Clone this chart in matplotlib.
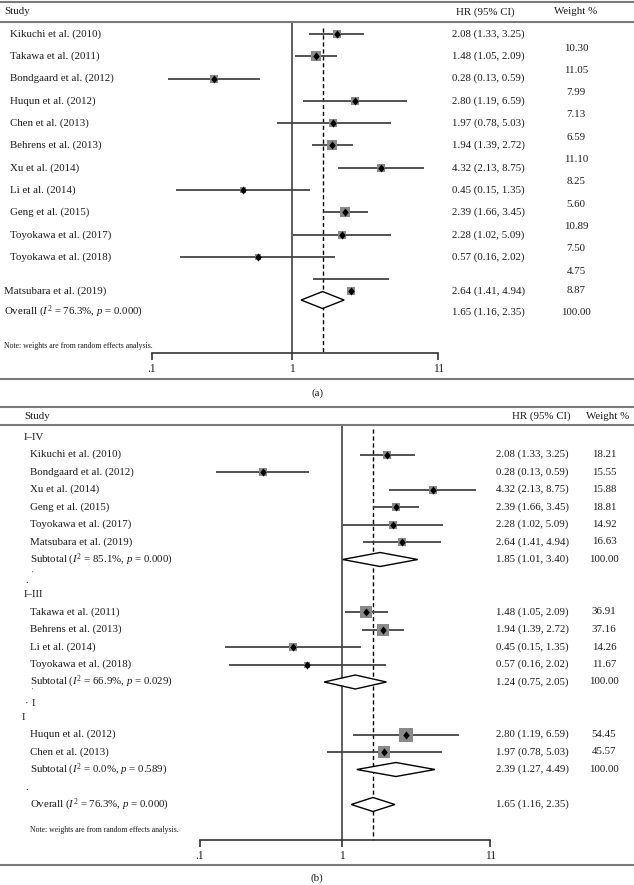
import numpy as np
import matplotlib as mpl
mpl.use('Agg')
import matplotlib.pyplot as plt
from matplotlib.patches import Polygon
from matplotlib.ticker import NullLocator

plt.rcParams['font.family'] = ['Liberation Serif', 'DejaVu Serif']
plt.rcParams['mathtext.fontset'] = 'custom'
plt.rcParams['mathtext.rm'] = 'Liberation Serif'
plt.rcParams['mathtext.it'] = 'Liberation Serif:italic'

W, H, DPI = 634, 885, 100
FS = 7.8
TXT = '#1a1a1a'
FRAME = '#7a7a7a'
CI_COL = '#444444'
BOX_COL = '#8a8a8a'
DIAMOND = [(0, 1), (0.8, 0), (0, -1), (-0.8, 0)]

# ---- data: all studies (panel a)
studies = ["Kikuchi et al. (2010)", "Takawa et al. (2011)", "Bondgaard et al. (2012)",
           "Huqun et al. (2012)", "Chen et al. (2013)", "Behrens et al. (2013)",
           "Xu et al. (2014)", "Li et al. (2014)", "Geng et al. (2015)",
           "Toyokawa et al. (2017)", "Toyokawa et al. (2018)", "Matsubara et al. (2019)"]
hr = [2.08, 1.48, 0.28, 2.80, 1.97, 1.94, 4.32, 0.45, 2.39, 2.28, 0.57, 2.64]
ci_lo = [1.33, 1.05, 0.13, 1.19, 0.78, 1.39, 2.13, 0.15, 1.66, 1.02, 0.16, 1.41]
ci_hi = [3.25, 2.09, 0.59, 6.59, 5.03, 2.72, 8.75, 1.35, 3.45, 5.09, 2.02, 4.94]
weight_all = [10.30, 11.05, 7.99, 7.13, 6.59, 11.10, 8.25, 5.60, 10.89, 7.50, 4.75, 8.87]

overall = (1.65, 1.16, 2.35)
overall_i2, overall_p = "76.3%", "0.000"

# ---- data: subgroups (panel b)
group_names = ["I\u2013IV", "I\u2013III", "I"]
group_members = [
    ["Kikuchi et al. (2010)", "Bondgaard et al. (2012)", "Xu et al. (2014)",
     "Geng et al. (2015)", "Toyokawa et al. (2017)", "Matsubara et al. (2019)"],
    ["Takawa et al. (2011)", "Behrens et al. (2013)", "Li et al. (2014)",
     "Toyokawa et al. (2018)"],
    ["Huqun et al. (2012)", "Chen et al. (2013)"],
]
group_weights = [
    [18.21, 15.55, 15.88, 18.81, 14.92, 16.63],
    [36.91, 37.16, 14.26, 11.67],
    [54.45, 45.57],
]
group_pooled = [(1.85, 1.01, 3.40), (1.24, 0.75, 2.05), (2.39, 1.27, 4.49)]
group_i2 = ["85.1%", "66.9%", "0.0%"]
group_p = ["0.000", "0.029", "0.589"]

ticks = [0.1, 1, 11]
tick_labels = [".1", "1", "11"]
NULL_HR = 1

fig = plt.figure(figsize=(W / DPI, H / DPI), dpi=DPI)


def make_panel(top_px, bot_px, row0_px, step_px, one_px, decade_px):
    ax = fig.add_axes([0, 1 - bot_px / H, 1, (bot_px - top_px) / H])
    ax.set_xscale('log')
    ax.set_xlim(10 ** (-one_px / decade_px), 10 ** ((W - one_px) / decade_px))
    ax.set_ylim((bot_px - row0_px) / step_px, (top_px - row0_px) / step_px)
    for s in ['left', 'right', 'top']:
        ax.spines[s].set_visible(False)
    ax.patch.set_alpha(0)
    ax.tick_params(axis='y', left=False, labelleft=False)
    return ax


def txt(ax, xpx, y, s, **kw):
    kw.setdefault('fontsize', FS)
    ax.text(xpx / W, y, s, transform=ax.get_yaxis_transform(), va='center',
            color=TXT, **kw)


def study_marks(ax, y_ci, y_pt, est, lo, hi, w, k, dsize):
    ax.hlines(y_ci, lo, hi, color=CI_COL, lw=1.3, zorder=2)
    ax.scatter([est], [y_pt], s=(k * np.sqrt(w) * 0.72) ** 2, marker='s',
               color=BOX_COL, linewidths=0, zorder=3)
    ax.scatter([est], [y_pt], s=dsize, marker=DIAMOND, color='black',
               linewidths=0, zorder=4)


def pooled(ax, y, est, lo, hi, half):
    ax.add_patch(Polygon([(lo, y), (est, y - half), (hi, y), (est, y + half)],
                         closed=True, fc='white', ec='black', lw=1, zorder=3))


def axis_and_frame(ax, axis_row, frame_rows, line_top):
    ax.spines['bottom'].set_position(('data', axis_row))
    ax.spines['bottom'].set_bounds(ticks[0], ticks[-1])
    ax.spines['bottom'].set_color('#333333')
    ax.spines['bottom'].set_linewidth(1.2)
    ax.set_xticks(ticks, tick_labels)
    ax.xaxis.set_minor_locator(NullLocator())
    ax.tick_params(axis='x', direction='out', length=5, width=1.2, pad=2,
                   labelsize=8.3, colors='#333333', labelcolor=TXT)
    for r in frame_rows:
        ax.axhline(r, color=FRAME, lw=1.5)
    ax.vlines(NULL_HR, line_top, axis_row, color='#333333', lw=1.1, zorder=1)
    ax.vlines(overall[0], line_top + 0.25, axis_row - 0.05, color='black',
              lw=1, linestyles=(0, (3, 2)), zorder=1)


# ================= panel (a) =================
ax = make_panel(0, 386, 34, 22.3, 292, 140.5)
axis_and_frame(ax, 14.3, [-1.43, -0.54, 15.47], -0.54)
txt(ax, 4, -0.99, "Study")
txt(ax, 456, -0.99, "HR (95% CI)")
txt(ax, 576, -0.99, "Weight %", ha='center')

n = len(studies)
for i in range(n - 1):
    study_marks(ax, i, i, hr[i], ci_lo[i], ci_hi[i], weight_all[i], 2.8, 34)
    txt(ax, 10, i, studies[i])
    txt(ax, 452, i, f"{hr[i]:.2f} ({ci_lo[i]:.2f}, {ci_hi[i]:.2f})")
    txt(ax, 576, i + 0.63, f"{weight_all[i]:.2f}", ha='center')
# last study: its CI line sits above its marker in the source figure
j = n - 1
study_marks(ax, j, j + 0.52, hr[j], ci_lo[j], ci_hi[j], weight_all[j], 2.8, 34)
txt(ax, 4, j + 0.52, studies[j])
txt(ax, 452, j + 0.52, f"{hr[j]:.2f} ({ci_lo[j]:.2f}, {ci_hi[j]:.2f})")
txt(ax, 576, j + 0.52, f"{weight_all[j]:.2f}", ha='center')

pooled(ax, j + 0.93, *overall, 0.38)
txt(ax, 4, j + 1.47, f"Overall ($I^2$ = {overall_i2}, $p$ = {overall_p})")
txt(ax, 452, j + 1.47, f"{overall[0]:.2f} ({overall[1]:.2f}, {overall[2]:.2f})")
txt(ax, 576, j + 1.47, "100.00", ha='center')
txt(ax, 4, 14.0, "Note: weights are from random effects analysis.", fontsize=5.6)

fig.text(0.5, 1 - 393 / H, "(a)", ha='center', va='center', fontsize=FS, color=TXT)

# ================= panel (b) =================
ax = make_panel(400, 885, 437, 17.5, 342, 142.5)
axis_and_frame(ax, 23.05, [-1.71, -0.69, 24.46], -0.69)
txt(ax, 24, -1.2, "Study")
txt(ax, 512, -1.2, "HR (95% CI)")
txt(ax, 608, -1.2, "Weight %", ha='center')

lookup = {s: i for i, s in enumerate(studies)}
group_start = [0, 9, 16]
for g, name in enumerate(group_names):
    r = group_start[g]
    txt(ax, 24 if g < 2 else 22, r, name)
    r += 1
    for s, w in zip(group_members[g], group_weights[g]):
        i = lookup[s]
        study_marks(ax, r, r, hr[i], ci_lo[i], ci_hi[i], w, 1.9, 34)
        txt(ax, 30, r, s)
        txt(ax, 496, r, f"{hr[i]:.2f} ({ci_lo[i]:.2f}, {ci_hi[i]:.2f})")
        txt(ax, 604, r, f"{w:.2f}", ha='center')
        r += 1
    est, lo, hi = group_pooled[g]
    pooled(ax, r, est, lo, hi, 0.4)
    txt(ax, 30, r, f"Subtotal ($I^2$ = {group_i2[g]}, $p$ = {group_p[g]})")
    txt(ax, 496, r, f"{est:.2f} ({lo:.2f}, {hi:.2f})")
    txt(ax, 604, r, "100.00", ha='center')

# stray marks left in the source figure
txt(ax, 25, 8.2, ".")
txt(ax, 32, 7.8, "'", fontsize=5)
txt(ax, 32, 14.46, "'", fontsize=5)
txt(ax, 25, 15.2, "\u00b7")
txt(ax, 32, 15.2, "I")
txt(ax, 25, 20.0, ".")

pooled(ax, 21, *overall, 0.4)
txt(ax, 30, 21, f"Overall ($I^2$ = {overall_i2}, $p$ = {overall_p})")
txt(ax, 496, 21, f"{overall[0]:.2f} ({overall[1]:.2f}, {overall[2]:.2f})")
txt(ax, 30, 22.46, "Note: weights are from random effects analysis.", fontsize=5.6)

fig.text(0.5, 1 - 878 / H, "(b)", ha='center', va='center', fontsize=FS, color=TXT)

fig.savefig("out.png", dpi=DPI)
